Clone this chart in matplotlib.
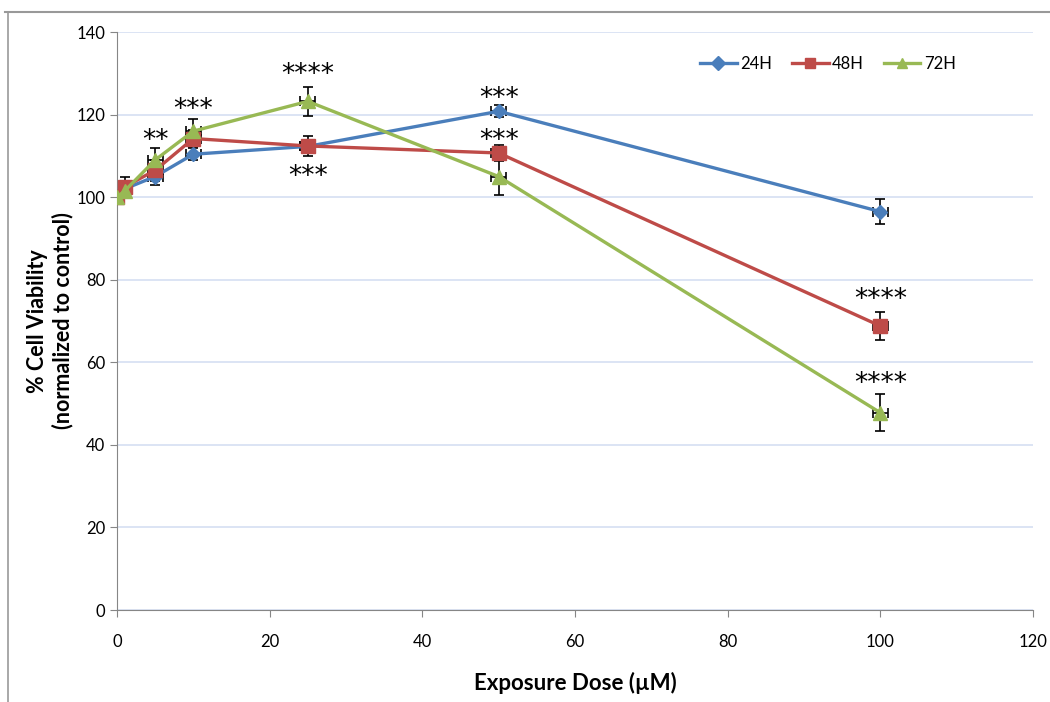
import matplotlib.pyplot as plt
from matplotlib.lines import Line2D

plt.rcParams['font.family'] = ['Lato', 'DejaVu Sans']

# ---------------- data ----------------
dose = [0, 1, 5, 10, 25, 50, 100]

v24 = [100, 102.0, 105.0, 110.4, 112.3, 120.8, 96.5]
e24 = [1.0, 1.5, 2.0, 1.5, 1.5, 1.5, 3.0]

v48 = [100, 102.5, 106.5, 114.2, 112.4, 110.7, 68.8]
e48 = [1.0, 2.5, 2.5, 2.0, 2.5, 2.0, 3.4]

v72 = [100, 101.5, 109.0, 116.0, 123.2, 105.0, 47.8]
e72 = [1.0, 1.5, 3.0, 3.0, 3.5, 4.5, 4.5]

xerr = [0, 0, 1.0, 1.0, 1.0, 1.0, 1.0]

# significance labels: (x, y, text)
star_x = [5, 10, 25, 25, 50, 50, 100, 100]
star_y = [113.5, 121.0, 129.5, 105.0, 123.8, 113.5, 75.0, 54.8]
star_txt = ['**', '***', '****', '***', '***', '***', '****', '****']

series = [
    ('24H', v24, e24, '#4a7ebb', 'D', 7),
    ('48H', v48, e48, '#be4b48', 's', 10),
    ('72H', v72, e72, '#98b954', '^', 10),
]

fig = plt.figure(figsize=(10.5, 7.02), dpi=100)
ax = fig.add_axes([0.1114, 0.131, 0.8724, 0.8234])

for name, v, e, col, mk, ms in series:
    ax.errorbar(dose, v, yerr=e, xerr=xerr, fmt='none', ecolor='black',
                elinewidth=1.2, capsize=3.5, capthick=1.2, zorder=2)
    ax.plot(dose, v, color=col, marker=mk, markersize=ms, linewidth=2.4,
            label=name, zorder=3)

for x, y, t in zip(star_x, star_y, star_txt):
    ax.text(x, y, t, ha='center', va='center', fontsize=19,
            family='DejaVu Sans', color='black')

ax.set_xlim(0, 120)
ax.set_ylim(0, 140)
ax.set_xticks(range(0, 121, 20))
ax.set_yticks(range(0, 141, 20))
ax.tick_params(labelsize=12, color='#868686', length=5, direction='out')
ax.tick_params(axis='x', pad=12)
ax.grid(axis='y', color='#d9e2f3', linewidth=1.3)
ax.set_axisbelow(True)
for s in ['top', 'right']:
    ax.spines[s].set_visible(False)
for s in ['left', 'bottom']:
    ax.spines[s].set_color('#868686')

ax.set_xlabel('Exposure Dose (µM)', fontsize=16, fontweight='bold', labelpad=16)
ax.set_ylabel('% Cell Viability\n(normalized to control)', fontsize=15.5,
              fontweight='bold', labelpad=2)

leg = ax.legend(loc='upper right', bbox_to_anchor=(0.932, 0.985), ncol=3,
                frameon=False, fontsize=12, handlelength=2.2,
                columnspacing=1.2, handletextpad=0.2)
for h in leg.legend_handles:
    h.set_markersize(7)

# outer frame lines
fig.add_artist(Line2D([0.005, 1.0], [0.983, 0.983], color='#999999', lw=1.5,
                      transform=fig.transFigure))
fig.add_artist(Line2D([0.008, 0.008], [0.0, 0.983], color='#999999', lw=1.2,
                      transform=fig.transFigure))

fig.savefig('out.png', dpi=100)
